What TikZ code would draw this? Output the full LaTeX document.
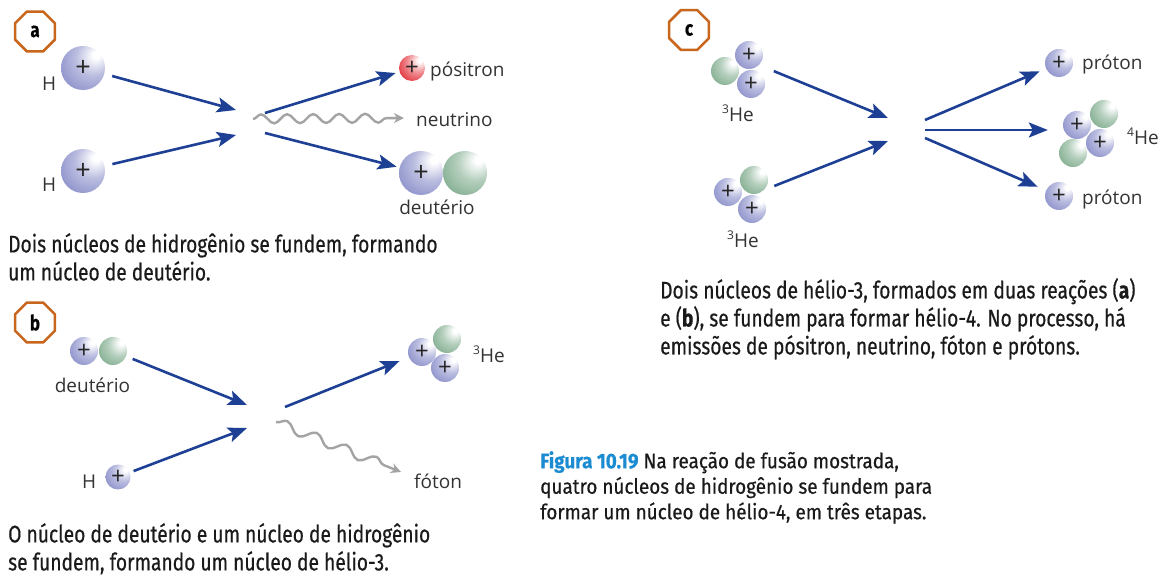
\documentclass[tikz,border=0pt]{standalone}
\usepackage{fontspec}
\usetikzlibrary{arrows.meta, shapes.geometric, decorations.pathmorphing}

\newfontfamily\labelfont{Open Sans}
\newfontfamily\capfont[FakeStretch=0.80, FakeBold=0.5]{Fira Sans}
\newfontfamily\figfont[FakeStretch=0.90, FakeBold=0.5]{Fira Sans}

\definecolor{pblue}{HTML}{8388C6}
\definecolor{ngreen}{HTML}{79A888}
\definecolor{ered}{HTML}{E0202A}
\definecolor{flowblue}{HTML}{1D3F94}
\definecolor{wavegray}{HTML}{A4A4A4}
\definecolor{tagorange}{HTML}{C9661E}
\definecolor{lblgray}{HTML}{333333}
\definecolor{captext}{HTML}{1A1A1A}
\definecolor{figblue}{HTML}{1C8CD2}

% shaded spheres, light from the upper right
\pgfdeclareradialshading{protonball}{\pgfpoint{16bp}{16bp}}{%
  color(0bp)=(white); color(4bp)=(white); color(20bp)=(pblue!55!white);
  color(42bp)=(pblue); color(72bp)=(pblue!85!black)}
\pgfdeclareradialshading{neutronball}{\pgfpoint{16bp}{16bp}}{%
  color(0bp)=(white); color(4bp)=(white); color(20bp)=(ngreen!55!white);
  color(42bp)=(ngreen); color(72bp)=(ngreen!80!black)}
\pgfdeclareradialshading{positronball}{\pgfpoint{16bp}{16bp}}{%
  color(0bp)=(white); color(4bp)=(white); color(20bp)=(ered!50!white);
  color(42bp)=(ered); color(72bp)=(ered!75!black)}

\tikzset{
  ball/.style={circle, inner sep=0pt, minimum size=28pt, shade, text=black!85,
    font=\labelfont\fontsize{24}{24}\selectfont},
  proton/.style={ball, shading=protonball},
  neutron/.style={ball, shading=neutronball},
  positron/.style={ball, shading=positronball, minimum size=26pt},
  big/.style={minimum size=44pt, font=\labelfont\fontsize{27}{27}\selectfont},
  lbl/.style={inner sep=0pt, text=lblgray, font=\labelfont\fontsize{19}{19}\selectfont},
  tag/.style={regular polygon, regular polygon sides=8, draw=tagorange,
    line width=2.6pt, minimum size=43pt, inner sep=0pt,
    font=\capfont\bfseries\fontsize{21}{21}\selectfont},
  flow/.style={draw=flowblue, line width=2.6pt,
    -{Stealth[length=19pt, width=15pt, inset=4pt]}},
  wave/.style={draw=wavegray, line width=2.4pt, decorate,
    decoration={snake, amplitude=4.5pt, segment length=26pt, post length=9pt},
    -{Stealth[length=10pt, width=10pt, inset=3pt]}},
  caption/.style={inner sep=0pt, anchor=north west, align=left, text=captext,
    font=\capfont\fontsize{24}{28}\selectfont}
}
\newcommand{\iso}[2]{\raisebox{0.45em}{\fontsize{12}{12}\selectfont#1}#2}

\begin{document}
\begin{tikzpicture}[x=1pt, y=-1pt]
  \fill[white] (0,0) rectangle (1163,577);
  \useasboundingbox (0,0) rectangle (1163,577);

  % (a) H + H -> deuterium
  \node[tag] (tagA) at (35,31.5) {a};
  \node[proton, big] (a-h1) at (83,68) {+};
  \node[proton, big] (a-h2) at (83,171) {+};
  \node[lbl, anchor=base west] (a-h1-lbl) at (42,91) {H};
  \node[lbl, anchor=base west] (a-h2-lbl) at (42,192) {H};
  \coordinate (a-in1) at (236,110);
  \coordinate (a-in2) at (236,135);
  \coordinate (a-out1) at (265,113);
  \coordinate (a-out2) at (265,133);
  \coordinate (a-wave) at (253,119);
  \coordinate (a-wave-end) at (404,118);
  \node[positron] (a-pos) at (412,68) {+};
  \node[lbl, anchor=base west] (a-pos-lbl) at (430,77) {pósitron};
  \node[lbl, anchor=base west] (a-nu-lbl) at (416,127) {neutrino};
  \node[proton, big] (a-dp) at (421,173) {+};
  \node[neutron, big] (a-dn) at (465,173) {};
  \node[lbl, anchor=base] (a-d-lbl) at (437,215) {deutério};
  \draw[flow, shorten <=8pt] (a-h1) -- (a-in1);
  \draw[flow, shorten <=8pt] (a-h2) -- (a-in2);
  \draw[flow, shorten >=4pt] (a-out1) -- (a-pos);
  \draw[flow, shorten >=3pt] (a-out2) -- (a-dp);
  \draw[wave] (a-wave) -- (a-wave-end);
  \node[caption] (capA) at (8,233)
    {Dois núcleos de hidrogênio se fundem, formando\\um núcleo de deutério.};

  % (b) deuterium + H -> helium-3
  \node[tag] (tagB) at (35,322.5) {b};
  \node[proton] (b-dp) at (84,351) {+};
  \node[neutron] (b-dn) at (113,351) {};
  \node[lbl, anchor=base] (b-d-lbl) at (92.5,393) {deutério};
  \node[proton, minimum size=25pt] (b-h) at (118,477) {+};
  \node[lbl, anchor=base west] (b-h-lbl) at (82,488) {H};
  \coordinate (b-in1) at (247,405);
  \coordinate (b-in2) at (247,428);
  \coordinate (b-out) at (285,407);
  \coordinate (b-wave) at (276,422);
  \coordinate (b-wave-end) at (401,472);
  \node[neutron] (b-he-n) at (447,339) {};
  \node[proton] (b-he-p1) at (422,352) {+};
  \node[proton] (b-he-p2) at (445,368) {+};
  \node[lbl, anchor=base west] (b-he-lbl) at (473,363) {\iso{3}{He}};
  \node[lbl, anchor=base west] (b-ph-lbl) at (414,488) {fóton};
  \draw[flow, shorten <=7pt] (b-dn) -- (b-in1);
  \draw[flow, shorten <=4pt] (b-h) -- (b-in2);
  \draw[flow, shorten >=10pt] (b-out) -- (b-he-p1);
  \draw[wave, decoration={amplitude=5pt, segment length=32pt}] (b-wave) -- (b-wave-end);
  \node[caption] (capB) at (8,523)
    {O núcleo de deutério e um núcleo de hidrogênio\\se fundem, formando um núcleo de hélio-3.};

  % (c) helium-3 + helium-3 -> helium-4 + 2 protons
  \node[tag] (tagC) at (689,30) {c};
  \node[neutron] (c-t-n) at (725,71) {};
  \node[proton] (c-t-p1) at (749,55) {+};
  \node[proton] (c-t-p2) at (751,84) {+};
  \node[lbl, anchor=base west] (c-t-lbl) at (722,122) {\iso{3}{He}};
  \node[neutron] (c-b-n) at (754,180) {};
  \node[proton] (c-b-p1) at (728,192) {+};
  \node[proton] (c-b-p2) at (752,209) {+};
  \node[lbl, anchor=base west] (c-b-lbl) at (727,248) {\iso{3}{He}};
  \coordinate (c-in1) at (888,118);
  \coordinate (c-in2) at (888,141);
  \coordinate (c-out1) at (925,120);
  \coordinate (c-out2) at (925,130);
  \coordinate (c-out3) at (925,138);
  \node[proton] (c-pt) at (1059,63) {+};
  \node[proton] (c-pb) at (1059,196) {+};
  \node[lbl, anchor=base west] (c-pt-lbl) at (1082,70) {próton};
  \node[lbl, anchor=base west] (c-pb-lbl) at (1082,205) {próton};
  \node[neutron] (c-he-n1) at (1104,114) {};
  \node[neutron] (c-he-n2) at (1073,153) {};
  \node[proton] (c-he-p1) at (1077,125) {+};
  \node[proton] (c-he-p2) at (1100,143) {+};
  \node[lbl, anchor=base west] (c-he-lbl) at (1127,145) {\iso{4}{He}};
  \draw[flow, shorten <=16pt] (c-t-p1.south east) -- (c-in1);
  \draw[flow, shorten <=11pt] (c-b-n.south east) -- (c-in2);
  \draw[flow, shorten >=7pt] (c-out1) -- (c-pt);
  \draw[flow, shorten >=11pt] (c-out2) -- (c-out2 -| c-he-n2.west);
  \draw[flow, shorten >=9pt] (c-out3) -- (c-pb);
  \node[caption] (capC) at (660,278)
    {Dois núcleos de hélio-3, formados em duas reações (\textbf{a})\\
     e (\textbf{b}), se fundem para formar hélio-4. No processo, há\\
     emissões de pósitron, neutrino, fóton e prótons.};

  \node[caption, font=\figfont\fontsize{21}{25.5}\selectfont] (capFig) at (540,451)
    {\textcolor{figblue}{\textbf{Figura 10.19}} Na reação de fusão mostrada,\\
     quatro núcleos de hidrogênio se fundem para\\
     formar um núcleo de hélio-4, em três etapas.};
\end{tikzpicture}
\end{document}
